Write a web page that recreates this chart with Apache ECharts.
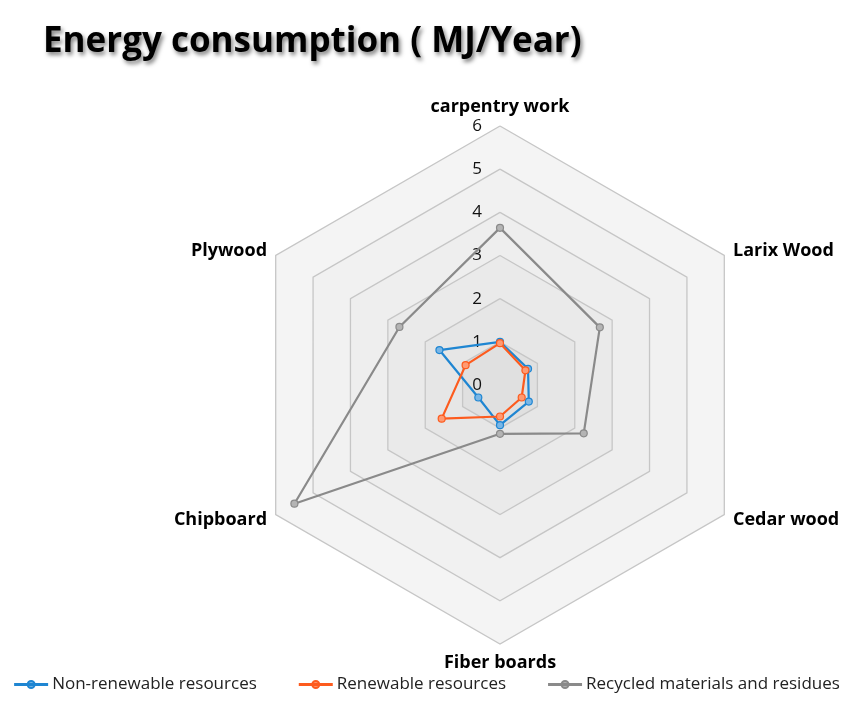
<!DOCTYPE html>
<html>
<head>
<meta charset="utf-8">
<script src="https://cdn.jsdelivr.net/npm/echarts@6/dist/echarts.min.js"></script>
<style>
  html, body { margin: 0; padding: 0; background: #fff; }
  #chart { width: 854px; height: 702px; }
</style>
</head>
<body>
<div id="chart"></div>
<script>
// axes, clockwise from the top as in the picture
const categories = ['carpentry work', 'Larix Wood', 'Cedar wood', 'Fiber boards', 'Chipboard', 'Plywood'];
const nonRenewable = [1.0, 0.75, 0.77, 0.93, 0.58, 1.62];
const renewable = [0.97, 0.68, 0.58, 0.73, 1.56, 0.92];
const recycled = [3.64, 2.67, 2.24, 1.13, 5.5, 2.69];
const seriesNames = ['Non-renewable resources', 'Renewable resources', 'Recycled materials and residues'];
const colors = ['#1f86d2', '#fd5b1e', '#8a8a8a'];
const fills = ['#79b6e6', '#ff9a72', '#b4b4b4'];

const font = '"Open Sans", sans-serif';

// echarts lays indicators counter-clockwise, so reverse everything after the first
function ccw(arr) {
  return [arr[0]].concat(arr.slice(1).reverse());
}

const chart = echarts.init(document.getElementById('chart'));

const indicator = ccw(categories).map(function (name, i) {
  const ind = { name: name, min: 0, max: 6 };
  if (i === 0) {
    ind.axisLabel = { show: true };
  }
  return ind;
});

const allData = [nonRenewable, renewable, recycled];

const option = {
  backgroundColor: '#fff',
  animation: false,
  color: colors,
  title: {
    text: 'Energy consumption ( MJ/Year)',
    left: 38,
    top: 20,
    textStyle: {
      fontFamily: font,
      fontSize: 35,
      fontWeight: 'bold',
      color: '#000',
      textShadowColor: 'rgba(0,0,0,0.5)',
      textShadowBlur: 4,
      textShadowOffsetX: 2,
      textShadowOffsetY: 3
    }
  },
  legend: {
    bottom: 4,
    left: 'center',
    itemWidth: 32,
    itemHeight: 8,
    itemGap: 42,
    icon: 'path://M0,3.4 L32,3.4 L32,4.6 L0,4.6 Z M12.5,4 A3.5,3.5 0 1,0 19.5,4 A3.5,3.5 0 1,0 12.5,4 Z',
    textStyle: { fontFamily: font, fontSize: 17, color: '#222' },
    data: seriesNames
  },
  radar: {
    center: [500, 385],
    radius: 259,
    startAngle: 90,
    splitNumber: 6,
    indicator: indicator,
    axisName: {
      color: '#000',
      fontFamily: font,
      fontWeight: 'bold',
      fontSize: 18
    },
    nameGap: 10,
    axisLine: { show: false },
    axisTick: { show: false },
    axisLabel: {
      show: false,
      color: '#111',
      fontFamily: font,
      fontSize: 17,
      margin: 18
    },
    splitLine: { lineStyle: { color: '#c6c6c6', width: 1.3 } },
    splitArea: {
      show: true,
      areaStyle: {
        color: ['#e0e0e0', '#e6e6e6', '#eaeaea', '#eeeeee', '#f1f1f1', '#f4f4f4']
      }
    }
  },
  series: [{
    type: 'radar',
    symbol: 'circle',
    symbolSize: 7,
    data: allData.map(function (vals, i) {
      return {
        name: seriesNames[i],
        value: ccw(vals),
        lineStyle: { width: 2.2, color: colors[i] },
        itemStyle: { color: fills[i], borderColor: colors[i], borderWidth: 1.2 }
      };
    })
  }]
};

chart.setOption(option);
</script>
</body>
</html>
